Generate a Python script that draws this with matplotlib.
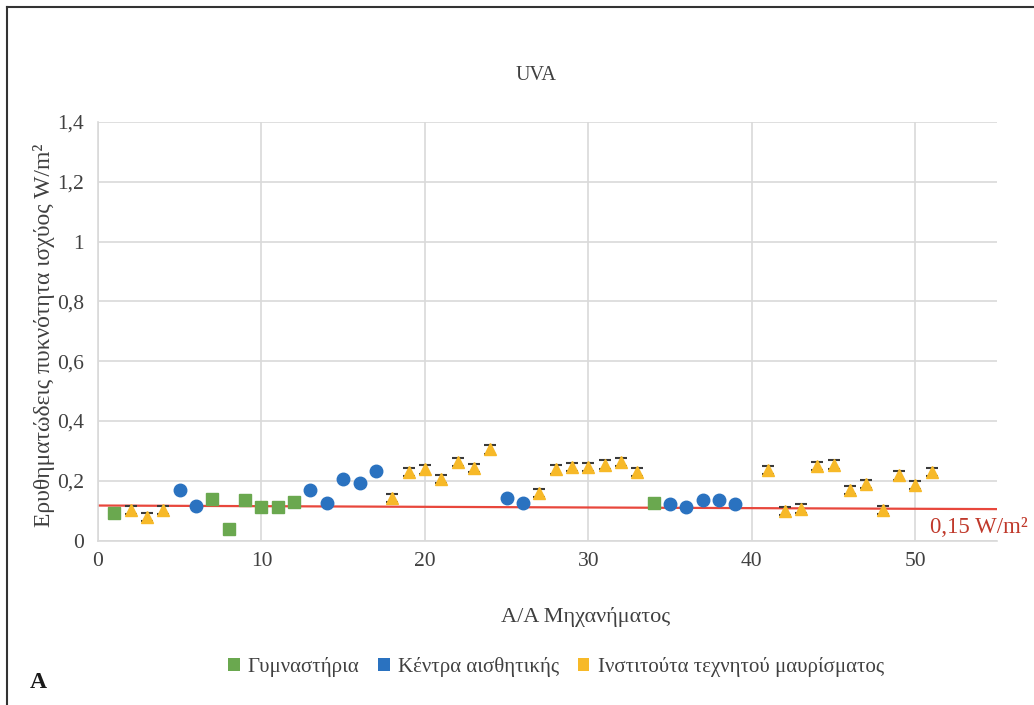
import matplotlib
matplotlib.use("Agg")
import matplotlib.pyplot as plt
from matplotlib.patches import Patch
from matplotlib.lines import Line2D

# ---- data ----
title = "UVA"
x_label = "A/A Μηχανήματος"
y_label = "Ερυθηματώδεις πυκνότητα ισχύος W/m²"
series_names = ["Γυμναστήρια", "Κέντρα αισθητικής", "Ινστιτούτα τεχνητού μαυρίσματος"]

green_x = [1, 7, 8, 9, 10, 11, 12, 34]
green_y = [0.091, 0.138, 0.037, 0.135, 0.113, 0.113, 0.129, 0.124]

blue_x = [5, 6, 13, 14, 15, 16, 17, 25, 26, 35, 36, 37, 38, 39]
blue_y = [0.168, 0.115, 0.170, 0.126, 0.205, 0.194, 0.232, 0.141, 0.124,
          0.121, 0.113, 0.135, 0.135, 0.121]

orange_x = [2, 3, 4, 18, 19, 20, 21, 22, 23, 24, 27, 28, 29, 30, 31, 32, 33,
            41, 42, 43, 44, 45, 46, 47, 48, 49, 50, 51]
orange_y = [0.102, 0.079, 0.102, 0.143, 0.229, 0.238, 0.205, 0.263, 0.243,
            0.305, 0.159, 0.238, 0.246, 0.246, 0.254, 0.263, 0.229, 0.235,
            0.098, 0.107, 0.249, 0.254, 0.168, 0.190, 0.102, 0.218, 0.185, 0.229]

blue_err = 0.008
orange_err = 0.014

limit_x = [0, 55]
limit_y = [0.117, 0.105]
limit_label = "0,15 W/m²"

y_ticks = [0, 0.2, 0.4, 0.6, 0.8, 1.0, 1.2, 1.4]
y_tick_labels = ["0", "0,2", "0,4", "0,6", "0,8", "1", "1,2", "1,4"]
x_ticks = [0, 10, 20, 30, 40, 50]

# ---- style ----
plt.rcParams['font.family'] = ['Liberation Serif', 'DejaVu Serif']
GREEN = '#6aa84f'
BLUE = '#2a72c0'
ORANGE = '#f7b928'
RED = '#e8473c'
TXT = '#404040'
GRID = '#d9d9d9'

fig = plt.figure(figsize=(10.34, 7.05), dpi=100)
ax = fig.add_axes([98/1034, 1-540.5/705, (997-98)/1034, (540.5-122)/705])

ax.set_xlim(0, 55)
ax.set_ylim(0, 1.4)
ax.set_xticks(x_ticks)
ax.set_yticks(y_ticks)
ax.set_yticklabels(y_tick_labels)
ax.tick_params(length=0, labelsize=15.5, colors=TXT, pad=10)
ax.tick_params(axis='x', pad=8)
ax.grid(True, color=GRID, linewidth=1.2)
ax.set_axisbelow(True)
for s in ['top', 'right']:
    ax.spines[s].set_visible(False)
for s in ['left', 'bottom']:
    ax.spines[s].set_color(GRID)
    ax.spines[s].set_linewidth(1.2)

# limit line
ax.plot(limit_x, limit_y, color=RED, linewidth=1.6, zorder=2)

# series
ax.errorbar(orange_x, orange_y, yerr=orange_err, fmt='^', color=ORANGE,
            markersize=9, ecolor='#3a3a3a', elinewidth=0.8, capsize=4,
            capthick=1.5, zorder=4)
ax.errorbar(blue_x, blue_y, yerr=blue_err, fmt='o', color=BLUE,
            markersize=9, ecolor='#3a3a5a', elinewidth=0.8, capsize=3,
            capthick=1.2, zorder=4)
ax.plot(green_x, green_y, 's', color=GREEN, markersize=9, zorder=4)

ax.text(56.9, 0.045, limit_label, color='#c0392b', fontsize=16.5,
        ha='right', va='center', clip_on=False,
        transform=ax.transData)

fig.text(536/1034, 1-76/705, title, ha='center', va='center', fontsize=14.5, color=TXT)
fig.text(586/1034, 1-617/705, x_label, ha='center', va='center', fontsize=16, color=TXT)
fig.text(44/1034, 1-335/705, y_label, ha='center', va='center', rotation=90,
         fontsize=17, color=TXT)
fig.text(38/1034, 1-683/705, "A", ha='center', va='center', fontsize=17,
         fontweight='bold', color='#1a1a1a')

handles = [Patch(facecolor=GREEN), Patch(facecolor=BLUE), Patch(facecolor=ORANGE)]
fig.legend(handles, series_names, loc='center', bbox_to_anchor=(556/1034, 1-667/705),
           ncol=3, frameon=False, fontsize=15, handlelength=0.55, handleheight=0.55,
           handletextpad=0.4, columnspacing=0.9, labelcolor=TXT)

# partial frame (left and top)
fig.add_artist(Line2D([7/1034, 7/1034], [0, 1-7/705], color='#333333', linewidth=1.5))
fig.add_artist(Line2D([7/1034, 1], [1-7/705, 1-7/705], color='#333333', linewidth=1.5))

fig.savefig("out.png", dpi=100)
